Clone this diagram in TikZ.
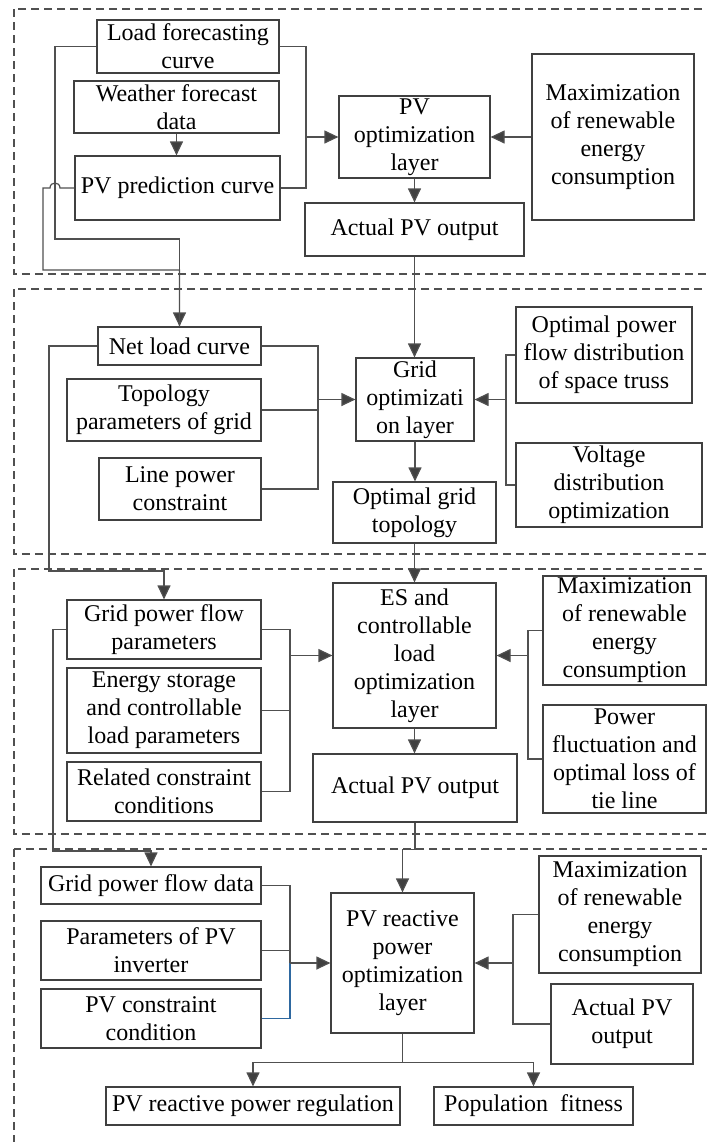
\documentclass[tikz,border=0pt]{standalone}
\usepackage{fontspec}
\setmainfont{Liberation Serif}
\usetikzlibrary{arrows.meta,calc}
\definecolor{bordc}{HTML}{404040}
\definecolor{connc}{HTML}{505050}
\definecolor{bluel}{HTML}{2E68A0}
\newcommand\mkbox[6]{%
\pgfmathsetmacro\bxc{(#2+#4)/2}%
\pgfmathsetmacro\byc{(#3+#5)/2}%
\pgfmathsetmacro\bw{(#4-#2)*0.5}%
\pgfmathsetmacro\bh{(#5-#3)*0.5}%
\node[blk, minimum width=\bw pt, minimum height=\bh pt] (#1) at (\bxc,\byc) {#6};}
\begin{document}
\begin{tikzpicture}[x=0.5pt,y=-0.5pt,
  blk/.style={draw=bordc, line width=0.6pt, inner sep=0pt, align=center,
    font=\rmfamily\fontsize{12}{14}\selectfont},
  conn/.style={draw=connc, line width=0.6pt},
  arr/.style={conn, -{Triangle[length=7pt,width=6.5pt,fill=bordc]}},
  sect/.style={draw=connc, line width=0.6pt, dash pattern=on 4pt off 2.5pt}]
\useasboundingbox (0,0) rectangle (707,1142);
\clip (0,0) rectangle (707,1142);
\fill[white] (0,0) rectangle (707,1142);
% sections
\draw[sect] (14,9) rectangle (730,274);
\draw[sect] (14,289) rectangle (730,554);
\draw[sect] (14,569) rectangle (730,834);
\draw[sect] (14,849) rectangle (730,1170);
% section 1
\mkbox{lfc}{97}{20}{279}{73}{Load forecasting\\curve}
\mkbox{wfd}{74}{81}{279}{133}{Weather forecast\\data}
\mkbox{pvp}{75}{156}{280}{220}{PV prediction curve}
\mkbox{pvopt}{339}{96}{490}{178}{PV\\optimization\\layer}
\mkbox{max1}{532}{54}{694}{220}{Maximization\\of renewable\\energy\\consumption}
\mkbox{apv1}{305}{203}{524}{256}{Actual PV output}
% section 2
\mkbox{netload}{98}{327}{261}{365}{Net load curve}
\mkbox{topo}{67}{379}{261}{441}{Topology\\parameters of grid}
\mkbox{lpc}{99}{458}{261}{520}{Line power\\constraint}
\mkbox{gridopt}{356}{358}{474}{441}{Grid\\optimizati\\on layer}
\mkbox{opf}{516}{307}{692}{403}{Optimal power\\flow distribution\\of space truss}
\mkbox{vdo}{516}{443}{702}{527}{Voltage\\distribution\\optimization}
\mkbox{ogt}{333}{482}{496}{543}{Optimal grid\\topology}
% section 3
\mkbox{gpfp}{67}{600}{261}{659}{Grid power flow\\parameters}
\mkbox{esp}{67}{668}{261}{753}{Energy storage\\and controllable\\load parameters}
\mkbox{rcc}{67}{762}{261}{821}{Related constraint\\conditions}
\mkbox{es}{333}{583}{496}{728}{ES and\\controllable\\load\\optimization\\layer}
\mkbox{apv3}{313}{754}{517}{822}{Actual PV output}
\mkbox{max3}{543}{576}{706}{685}{Maximization\\of renewable\\energy\\consumption}
\mkbox{pfl}{543}{705}{706}{813}{Power\\fluctuation and\\optimal loss of\\tie line}
% section 4
\mkbox{gpfd}{41}{867}{261}{904}{Grid power flow data}
\mkbox{ppi}{41}{921}{261}{980}{Parameters of PV\\inverter}
\mkbox{pcc}{41}{989}{261}{1048}{PV constraint\\condition}
\mkbox{pvr}{331}{893}{474}{1033}{PV reactive\\power\\optimization\\layer}
\mkbox{max4}{539}{856}{701}{973}{Maximization\\of renewable\\energy\\consumption}
\mkbox{apv4}{551}{984}{693}{1064}{Actual PV\\output}
\mkbox{reg}{106}{1087}{400}{1125}{PV reactive power regulation}
\mkbox{fit}{434}{1087}{633}{1125}{Population\ \ fitness}
% connectors section 1
\draw[arr] (wfd.south) -- (wfd.south |- pvp.north);
\coordinate (j1) at (306,137);
\draw[conn] (lfc.east) -| (j1);
\draw[conn] (pvp.east) -| (j1);
\draw[arr] (j1) -- (pvopt.west);
\draw[arr] (max1.west) -- (pvopt.east);
\draw[arr] (pvopt.south) -- (apv1.north);
\draw[arr] (lfc.west) -| (55,239) -| (netload.north);
\draw[conn] (pvp.west) -- (60,188) .. controls (60,181.33) and (50,181.33) .. (50,188) -- (43,188) -- (43,270) -| (netload.north);
\draw[arr] (apv1.south) -- (apv1.south |- gridopt.north);
% connectors section 2
\coordinate (j2) at (318,399.5);
\draw[conn] (netload.east) -| (j2);
\draw[conn] (topo.east) -| (j2);
\draw[conn] (lpc.east) -| (j2);
\draw[arr] (j2) -- (gridopt.west);
\coordinate (j3) at (506,399.5);
\draw[conn] (opf.west) -| (j3);
\draw[conn] (vdo.west) -| (j3);
\draw[arr] (j3) -- (gridopt.east);
\draw[arr] (gridopt.south) -- (gridopt.south |- ogt.north);
\draw[arr] (ogt.south) -- (ogt.south |- es.north);
\draw[arr] (netload.west) -| (49,571) -| (gpfp.north);
% connectors section 3
\coordinate (j4) at (290,655.5);
\draw[conn] (gpfp.east) -| (j4);
\draw[conn] (esp.east) -| (j4);
\draw[conn] (rcc.east) -| (j4);
\draw[arr] (j4) -- (es.west);
\coordinate (j5) at (528,655.5);
\draw[conn] (max3.west) -| (j5);
\draw[conn] (pfl.west) -| (j5);
\draw[arr] (j5) -- (es.east);
\draw[arr] (es.south) -- (es.south |- apv3.north);
\draw[arr] (apv3.south) -- ++(0,27) -| (pvr.north);
\draw[arr] (gpfp.west) -| (53,851) -| (gpfd.north);
% connectors section 4
\coordinate (j6) at (290,963);
\draw[conn] (gpfd.east) -| (j6);
\draw[conn] (ppi.east) -| (j6);
\draw[conn, draw=bluel] (pcc.east) -| (j6);
\draw[arr] (j6) -- (pvr.west);
\coordinate (j7) at (513,963);
\draw[conn] (max4.west) -| (j7);
\draw[conn] (apv4.west) -| (j7);
\draw[arr] (j7) -- (pvr.east);
\draw[conn] (pvr.south) -- ++(0,29) coordinate (j8);
\draw[arr] (j8) -| (reg.north);
\draw[arr] (j8) -| (fit.north);
\end{tikzpicture}
\end{document}
